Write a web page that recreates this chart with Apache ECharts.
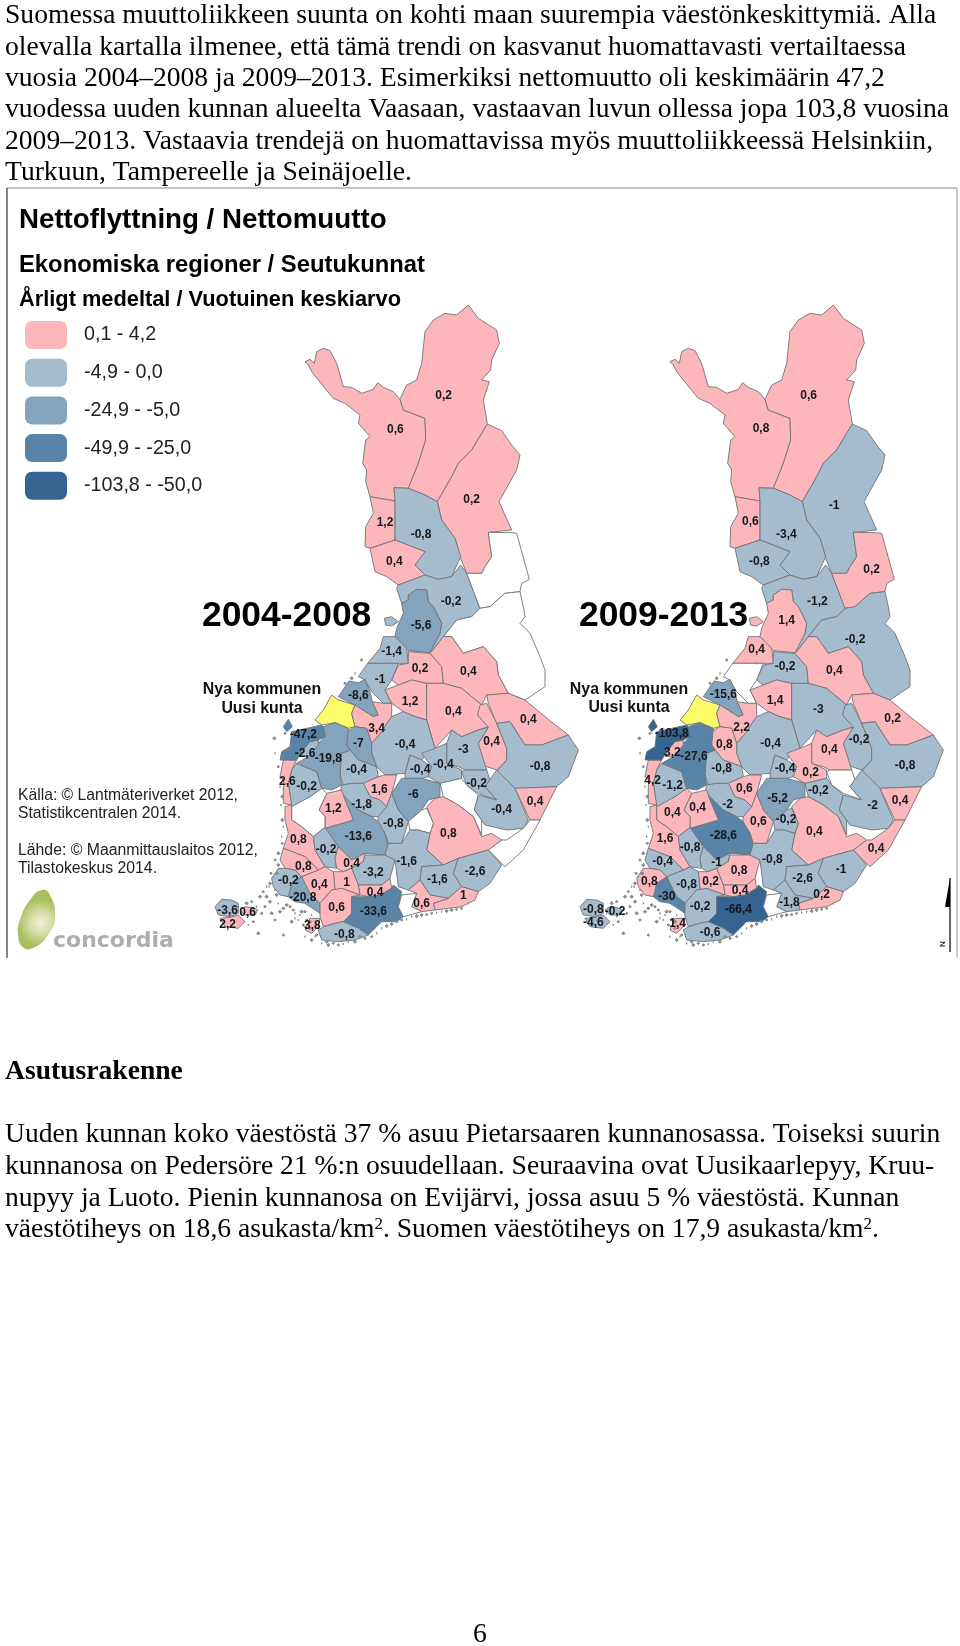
<!DOCTYPE html>
<html><head><meta charset="utf-8">
<style>html,body{margin:0;padding:0;background:#fff}#c{width:960px;height:1646px}</style>
<script src="https://cdn.jsdelivr.net/npm/echarts@6/dist/echarts.min.js"></script>
</head><body><div id="c"></div>
<script>
// ---------- values ----------
const regionIds = Array.from({length:71},(_,i)=>'r'+(i+1));
const values2004 = [0.6,0.2,0.2,1.2,-0.8,0.4,-0.2,-5.6,null,null,-1.4,0.2,0.4,-1,null,-8.6,1.2,0.4,0.4,0.4,-3,-0.8,-0.4,3.4,-7,-0.4,1.6,-0.4,-0.4,-0.2,null,-0.4,0.4,null,0.8,-6,null,-0.8,-1.8,-13.6,1.2,null,-0.2,2.6,-19.8,-2.6,-47.2,0.8,-0.2,0.4,-3.2,0.4,1,0.4,0.8,-0.2,-20.8,0.6,-33.6,3.8,-0.8,-1.6,-1.6,-2.6,1,0.6,null,-3.6,0.6,2.2,null];
const values2009 = [0.8,0.6,-1,0.6,-3.4,-0.8,-1.2,1.4,0.2,-0.2,0.4,-0.2,0.4,null,null,-15.6,1.4,-3,0.2,-0.2,0.4,-0.8,-0.4,2.2,0.8,-0.8,0.6,-0.4,0.2,null,-0.2,-2,0.4,0.4,0.4,-5.2,-0.2,0.6,-2,-28.6,0.4,0.4,-1.2,4.2,-27.6,3.2,-103.8,1.6,-0.8,-1,0.8,0.4,0.2,-0.8,-0.4,0.8,-30,-0.2,-66.4,1.4,-0.6,-0.8,-2.6,-1,0.2,-1.8,null,-0.8,-0.2,-4.6,null];
const newMunicipalityRegion = 'r15', archipelagoRegion = 'r71';
const legendLabels = ['0,1 - 4,2','-4,9 - 0,0','-24,9 - -5,0','-49,9 - -25,0','-103,8 - -50,0'];
const legendMin = [0.1,-4.9,-24.9,-49.9,-103.8];
const legendMax = [4.2,0,-5,-25,-50];
const legendColors = ['#fdb7ba','#a5bccf','#84a3bd','#5a83a8','#34648f'];
const paragraph1 = ['Suomessa muuttoliikkeen suunta on kohti maan suurempia väestönkeskittymiä. Alla','olevalla kartalla ilmenee, että tämä trendi on kasvanut huomattavasti vertailtaessa','vuosia 2004–2008 ja 2009–2013. Esimerkiksi nettomuutto oli keskimäärin 47,2','vuodessa uuden kunnan alueelta Vaasaan, vastaavan luvun ollessa jopa 103,8 vuosina','2009–2013. Vastaavia trendejä on huomattavissa myös muuttoliikkeessä Helsinkiin,','Turkuun, Tampereelle ja Seinäjoelle.'];
const paragraph2 = ['Uuden kunnan koko väestöstä 37 % asuu Pietarsaaren kunnanosassa. Toiseksi suurin','kunnanosa on Pedersöre 21 %:n osuudellaan. Seuraavina ovat Uusikaarlepyy, Kruu-','nupyy ja Luoto. Pienin kunnanosa on Evijärvi, jossa asuu 5 % väestöstä. Kunnan','väestötiheys on 18,6 asukasta/km{sup|2}. Suomen väestötiheys on 17,9 asukasta/km{sup|2}.'];

// ---------- base map outlines (one shape per economic region) ----------
const outlines = [
[[330,-775,345,-782,358,-770,365,-805,385,-815,405,-808,425,-770,445,-700,470,-698,500,-680,535,-692,548,-712,565,-698,595,-685,615,-662,625,-630,690,-605,692,-540,670,-470,640,-395,597,-397,600,-357,525,-370,512,-415,515,-450,503,-470,512,-540,525,-550,490,-590,495,-615,450,-650,415,-665,390,-695,350,-745,340,-765]],
[[625,-630,615,-662,635,-705,665,-720,680,-770,690,-865,715,-900,750,-920,785,-915,820,-945,850,-905,905,-870,913,-830,890,-780,887,-750,860,-720,883,-715,865,-660,877,-588,830,-510,790,-470,770,-430,727,-355,690,-375,640,-395,670,-470,692,-540,690,-605]],
[[877,-588,920,-568,950,-525,975,-495,965,-450,912,-355,950,-270,880,-263,890,-190,870,-160,860,-140,815,-140,795,-190,780,-245,740,-300,727,-355,770,-430,790,-470,830,-510]],
[[525,-370,600,-357,600,-240,525,-215,510,-220,512,-280,535,-320]],
[[597,-397,640,-395,690,-375,727,-355,740,-300,780,-245,797,-190,770,-130,730,-122,690,-135,660,-165,690,-205,600,-240,600,-357]],
[[525,-215,600,-240,690,-205,660,-165,690,-135,610,-105,575,-130,540,-145]],
[[610,-105,690,-135,730,-122,770,-130,797,-165,815,-140,855,-35,830,-10,785,0,745,50,710,95,705,95,735,40,740,10,715,-40,700,-55,695,-90,665,-92,640,-75,640,-60,620,-50,605,-95]],
[[665,-92,695,-90,700,-55,715,-40,740,10,735,40,705,98,640,92,600,50,605,25,625,-20,620,-50,640,-60,640,-75]],
[[880,-263,950,-262,965,-260,1003,-122,980,-110,975,-85,930,-80,885,-40,855,-35,815,-140,860,-140,870,-160,890,-190]],
[[855,-35,885,-40,930,-80,975,-85,985,-40,990,-10,975,10,1005,40,1035,110,1050,150,1050,200,990,240,940,220,910,165,905,125,865,80,805,100,770,50,745,50,785,0,830,-10]],
[[518,130,555,85,565,50,600,50,635,85,640,130,610,130],[568,-5,590,-10,610,5,590,18,572,15]],
[[590,180,610,135,640,130,640,95,705,100,740,140,745,190,695,190,650,180,610,195]],
[[710,95,745,50,770,50,805,100,865,80,905,125,910,165,940,220,875,225,860,255,800,205,745,190,740,140,705,100]],
[[490,170,518,130,610,130,590,180,570,210,590,250,565,250,530,215,510,180]],
[[360,300,385,270,410,225,430,240,480,255,470,280,480,320,460,325,420,308,380,315]],
[[430,230,462,183,490,188,510,178,525,215,532,245,550,285,535,290,480,255]],
[[570,210,610,195,650,180,695,190,695,300,660,290,625,275,590,250]],
[[745,190,800,205,860,255,848,285,880,320,850,330,800,350,770,330,720,385,695,300,695,190]],
[[875,225,940,220,990,240,1050,290,1120,345,1040,375,990,375,945,305,905,310,880,250]],
[[855,255,875,250,905,310,935,385,935,420,905,450,860,435,850,370,880,322,848,285]],
[[755,370,770,330,800,350,850,330,880,322,850,370,875,450,810,450,790,440,755,430]],
[[905,310,945,305,990,375,1040,375,1120,345,1150,390,1120,470,1085,500,960,505,905,455,935,420,935,385]],
[[530,370,560,335,575,310,590,290,625,275,660,290,695,300,720,385,695,400,680,420,645,405,630,460,570,465,545,440,530,400]],
[[480,255,535,290,550,285,532,245,565,250,590,250,590,290,575,310,560,335,530,370,515,325,480,320,470,280]],
[[455,335,480,320,515,325,530,370,530,400,545,440,490,420,465,390,455,375]],
[[435,430,440,400,465,390,490,420,545,440,550,470,505,490,470,490,445,495,435,465]],
[[505,490,550,470,570,465,605,465,590,520,575,560,555,540,525,530]],
[[630,460,645,405,680,420,710,440,700,470,680,475,630,475]],
[[680,400,720,385,755,370,755,430,800,450,800,475,735,490,700,470,710,440]],
[[800,455,810,450,875,450,885,480,870,500,905,540,850,520,815,495]],
[[735,490,800,475,815,495,850,525,838,570,860,600,860,645,835,590,790,555,745,530]],
[[850,525,905,540,870,500,905,450,960,505,1000,600,985,625,935,630,870,615,838,570]],
[[960,505,1085,500,1035,600,1005,600]],
[[1035,600,985,690,930,740,880,690,920,660,935,660,985,625,1005,600]],
[[695,560,720,535,745,530,790,555,835,590,860,650,890,640,920,660,880,690,790,715,745,735,695,690,705,640,715,610]],
[[590,520,620,475,680,475,735,490,735,530,700,540,680,570,640,605,610,570]],
[[640,605,680,570,695,565,715,610,705,640,670,630,645,630]],
[[550,585,575,560,590,520,610,570,640,605,620,670,580,670,570,640,548,610]],
[[440,495,470,490,505,490,525,530,555,540,575,560,550,590,530,590,490,570,450,540,435,520]],
[[390,625,475,600,450,540,440,520,490,570,530,590,550,605,570,640,580,675,570,705,510,700,470,720,430,680]],
[[395,520,440,510,450,540,475,600,390,625,390,590,372,570]],
[[290,555,345,530,380,505,395,520,372,570,390,590,390,622,355,650,320,620,290,600]],
[[305,430,365,455,380,505,345,530,290,560,280,490,290,450]],
[[265,420,305,420,290,450,280,490,290,555,265,550,265,480,255,470]],
[[385,320,420,308,460,325,455,375,465,390,440,400,435,465,440,495,410,510,380,505,365,455,305,430,340,410,370,370,390,350]],
[[345,365,370,360,370,375,340,410,315,410,320,395]],
[[290,335,380,315,385,320,390,350,370,360,345,365,320,395,305,420,255,420,260,395,285,380],[265,320,280,298,292,320,275,335]],
[[270,560,290,555,290,600,320,620,355,650,360,690,390,740,370,750,330,710,265,685,280,640,270,600]],
[[355,650,390,622,430,680,420,715,425,745,390,740,360,690]],
[[425,745,420,715,430,680,470,720,510,700,505,725,470,745,445,755]],
[[470,745,505,725,510,705,570,705,600,720,585,775,560,795,490,795]],
[[490,795,560,795,585,775,590,805,555,825,520,830,495,825]],
[[415,755,445,755,470,745,490,795,495,825,440,805,420,810]],
[[320,770,370,750,390,740,415,755,420,810,410,810,375,850,350,830,325,790]],
[[255,720,265,685,330,710,370,750,320,770,300,750,270,745]],
[[230,775,250,745,270,745,300,750,320,770,280,830,255,825,235,800]],
[[290,790,320,770,350,830,375,850,375,880,330,850,300,845,280,830]],
[[375,850,410,810,440,805,495,825,470,830,470,880,445,905,420,910,385,920,375,890]],
[[470,830,520,830,555,825,590,805,595,795,620,815,610,860,625,890,605,905,560,905,520,945,490,925,445,905,470,880]],
[[330,930,345,895,375,895,370,920,350,940]],
[[370,930,385,920,420,910,445,905,490,925,520,945,480,960,430,965,380,960]],
[[570,705,580,670,620,670,645,630,670,630,705,640,695,690,745,735,680,740,675,780,640,810,610,800,600,720]],
[[680,740,745,735,790,715,775,760,800,800,760,835,705,825,675,780]],
[[790,715,880,690,920,735,885,790,850,815,800,800,775,760]],
[[800,800,850,815,840,840,800,860,720,870,715,850,760,835]],
[[640,810,675,780,705,825,760,835,715,850,720,870,680,875,650,860,665,820]],
[[620,825,665,820,650,860,680,875,625,890,610,860]],
[[60,860,80,838,110,840,130,850,130,880,105,890,70,885]],
[[135,870,150,860,170,862,188,870,180,885,150,885]],
[[75,895,105,892,130,885,150,905,130,925,90,920]],
null
];
const isletCentres = [140,880,155,850,170,845,185,860,195,830,205,815,215,800,225,790,175,905,160,915,190,940,265,945,240,810,215,830,200,880,235,770,225,845,210,860,250,850,265,865,285,860,300,880,320,875,335,900,310,900,290,905,345,925,330,950,350,960,365,945,380,970,400,975,430,975,460,965,495,950,530,950,560,925,590,912,620,900,650,890,680,885,710,880,740,875,770,870,800,865,350,885,230,880,240,900,240,400,238,355,250,440,255,500,262,530,270,340,265,620,250,700,240,720,260,650,245,760,500,120,480,160,470,175,450,190,590,130,275,855,295,870,315,885,255,875,330,875,300,895,345,905,325,915,360,950,395,965,415,970,445,972,480,965,510,955,545,940,575,918,605,905,635,898,665,888,695,884,725,878,755,873,785,868,820,850,250,735,228,760,222,800,245,825,248,760,258,555,262,600,262,670];
// label anchors, [x,y] per region on each map
const anchors2004 = [[601,-572],[746,-672],[830,-362],[570,-293],[678,-255],[598,-175],[768,-55],[678,17],[935,-150],[885,58],[590,95],[675,145],[820,155],[555,180],[420,280],[490,228],[645,245],[775,275],[1000,300],[890,365],[805,390],[1035,440],[630,375],[545,325],[490,370],[485,450],[553,510],[675,450],[745,435],[845,490],[775,560],[920,570],[1020,545],[948,687],[760,640],[655,525],[678,600],[595,610],[500,555],[490,650],[415,565],[337,578],[335,500],[277,485],[400,415],[330,400],[325,345],[310,660],[393,688],[470,732],[535,758],[540,818],[455,788],[373,793],[325,740],[280,783],[323,833],[425,863],[535,875],[352,917],[448,945],[635,725],[727,780],[840,755],[805,828],[680,850],[640,860],[98,873],[158,877],[98,913],[300,900]];
const anchors2009 = [[603,-573],[746,-673],[822,-342],[571,-295],[679,-257],[598,-175],[772,-55],[680,2],[935,-150],[885,58],[590,90],[675,140],[823,152],[555,180],[420,280],[490,225],[645,242],[775,268],[998,295],[897,360],[808,388],[1035,436],[632,372],[545,322],[493,373],[485,447],[553,505],[675,447],[752,458],[845,490],[775,512],[938,558],[1020,541],[948,687],[763,635],[653,535],[678,600],[595,605],[503,553],[490,648],[413,562],[337,578],[338,498],[278,481],[402,410],[337,398],[335,342],[315,655],[390,683],[470,728],[537,752],[540,813],[452,785],[380,795],[308,725],[268,785],[320,830],[420,860],[535,870],[353,912],[450,938],[637,720],[728,775],[843,750],[785,823],[688,847],[640,860],[100,868],[165,875],[100,908],[300,900]];

const toRing = f => { const r=[]; for(let i=0;i<f.length;i+=2) r.push([f[i],-f[i+1]]); r.push(r[0]); return r; };
const islets = []; for(let i=0;i<isletCentres.length;i+=2){const x=isletCentres[i],y=isletCentres[i+1],s=3+(i%3);islets.push([[x,-y-s],[x+s,-y],[x,-y+s],[x-s,-y],[x,-y-s]]);}
function geoJson(anchors){
  return {type:'FeatureCollection',features:regionIds.map((id,i)=>{
    const polys = outlines[i] ? outlines[i].map(f=>[toRing(f)]) : islets.map(r=>[r]);
    return {type:'Feature',properties:{name:id,cp:[anchors[i][0],-anchors[i][1]]},geometry:{type:'MultiPolygon',coordinates:polys}};
  })};
}
echarts.registerMap('fin2004',geoJson(anchors2004));
echarts.registerMap('fin2009',geoJson(anchors2009));

// extent of the drawing in map units; 3 units = 1 page pixel
let x0=1e9,x1=-1e9,y0=1e9,y1=-1e9;
const grow=(x,y)=>{x0=Math.min(x0,x);x1=Math.max(x1,x);y0=Math.min(y0,y);y1=Math.max(y1,y);};
outlines.forEach(o=>{ if(o) o.forEach(f=>{for(let i=0;i<f.length;i+=2) grow(f[i],f[i+1]);});});
islets.forEach(r=>r.forEach(p=>grow(p[0],-p[1])));

const fmt = v => String(v).replace('.',',');
const mapSeries = (map,vals,originX)=>({
  type:'map',map,aspectScale:1,roam:false,silent:true,selectedMode:false,
  left:originX+x0/3,top:620+y0/3,width:(x1-x0)/3,height:(y1-y0)/3,
  itemStyle:{areaColor:'#ffffff',borderColor:'#6f7377',borderWidth:0.9},
  label:{show:true,fontFamily:'Liberation Sans',fontSize:12,fontWeight:'bold',color:'#14181c',
    formatter:p=>(p.value===null||isNaN(p.value))?'':fmt(p.value)},
  emphasis:{disabled:true},
  data:regionIds.map((name,i)=>{
    const d={name,value:vals[i]===null?NaN:vals[i]};
    if(name===newMunicipalityRegion) d.itemStyle={areaColor:'#fdfd6a'};
    if(name===archipelagoRegion) d.itemStyle={areaColor:'#8a8a8a',borderColor:'#8a8a8a'};
    return d;
  })
});

// ---------- page furniture ----------
const SERIF='"Liberation Serif"', SANS='"Liberation Sans"';
const txt=(text,x,y,font,fill,extra)=>({type:'text',silent:true,style:Object.assign({text,x,y,font,fill:fill||'#000',verticalAlign:'middle',align:'left'},extra||{})});
const graphics=[];
paragraph1.forEach((t,i)=>graphics.push(txt(t,5,16+i*31.4,'27.6px '+SERIF)));
graphics.push(txt('Asutusrakenne',5,1072,'bold 27.6px '+SERIF));
paragraph2.forEach((t,i)=>graphics.push({type:'text',silent:true,style:{text:t,x:5,y:1135+i*31.7,font:'27.6px '+SERIF,fill:'#000',verticalAlign:'middle',rich:{sup:{font:'17px '+SERIF,verticalAlign:'top',fill:'#000'}}}}));
graphics.push(txt('6',480,1635,'27.6px '+SERIF,'#000',{align:'center'}));
[[7,188,957,188,'#8a8a8a'],[7,188,7,958,'#333'],[957,188,957,958,'#aaa']].forEach(l=>graphics.push({type:'line',silent:true,shape:{x1:l[0],y1:l[1],x2:l[2],y2:l[3]},style:{stroke:l[4],lineWidth:1.2}}));
graphics.push(txt('Nettoflyttning / Nettomuutto',19,220,'bold 27.7px '+SANS));
graphics.push(txt('Ekonomiska regioner / Seutukunnat',19,265,'bold 23.8px '+SANS));
graphics.push(txt('Årligt medeltal / Vuotuinen keskiarvo',19,300,'bold 21.8px '+SANS));
graphics.push(txt('2004-2008',202,616,'bold 35.4px '+SANS));
graphics.push(txt('2009-2013',579,616,'bold 35.4px '+SANS));
graphics.push(txt('Nya kommunen',262,690,'bold 15.9px '+SANS,'#111',{align:'center'}));
graphics.push(txt('Uusi kunta',262,709,'bold 15.9px '+SANS,'#111',{align:'center'}));
graphics.push(txt('Nya kommunen',629,690,'bold 15.9px '+SANS,'#111',{align:'center'}));
graphics.push(txt('Uusi kunta',629,708,'bold 15.9px '+SANS,'#111',{align:'center'}));
graphics.push(txt('Källa: © Lantmäteriverket 2012,',18,796,'15.7px '+SANS,'#222'));
graphics.push(txt('Statistikcentralen 2014.',18,814,'15.7px '+SANS,'#222'));
graphics.push(txt('Lähde: © Maanmittauslaitos 2012,',18,851,'15.8px '+SANS,'#222'));
graphics.push(txt('Tilastokeskus 2014.',18,869,'15.8px '+SANS,'#222'));
graphics.push({type:'polygon',silent:true,shape:{smooth:0.5,points:[[42,890],[50,895],[55,917],[48,935],[35,947],[24,948],[18,935],[21,917],[30,900]]},
  style:{fill:new echarts.graphic.RadialGradient(0.62,0.55,0.62,[{offset:0,color:'#f1f0dc'},{offset:0.5,color:'#d4dca6'},{offset:1,color:'#a7bf5e'}])}});
graphics.push(txt('concordia',53,941,'bold 22px "DejaVu Sans"','#adadad'));
graphics.push({type:'polygon',silent:true,shape:{points:[[950,878],[950,907],[945,907]]},style:{fill:'#000'}});
graphics.push({type:'line',silent:true,shape:{x1:950,y1:878,x2:950,y2:952},style:{stroke:'#000',lineWidth:1.2}});
graphics.push({type:'text',silent:true,x:943,y:944,rotation:Math.PI/2,style:{text:'N',font:'bold 8px '+SANS,fill:'#222',align:'center',verticalAlign:'middle'}});

const chart=echarts.init(document.getElementById('c'),null,{renderer:'canvas',width:960,height:1646});
chart.setOption({
  animation:false,backgroundColor:'#ffffff',
  visualMap:{type:'piecewise',seriesIndex:[0,1],left:10,top:306,orient:'vertical',align:'left',itemWidth:42,itemHeight:28,itemGap:9.7,itemSymbol:'roundRect',textGap:17,hoverLink:false,selectedMode:false,
    textStyle:{fontFamily:'Liberation Sans',fontSize:19.7,color:'#222'},
    pieces:legendLabels.map((label,i)=>({min:legendMin[i],max:legendMax[i],label,color:legendColors[i]}))},
  series:[mapSeries('fin2004',values2004,195),mapSeries('fin2009',values2009,560)],
  graphic:{elements:graphics}
});
</script></body></html>
